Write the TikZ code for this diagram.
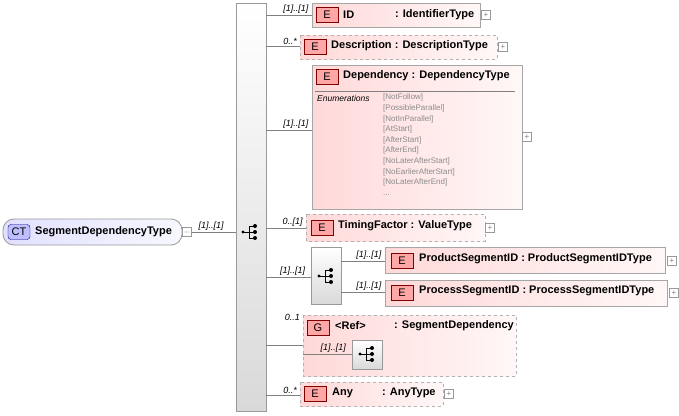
\documentclass[tikz,border=0pt]{standalone}
\usepackage{fontspec}
\setmainfont{Liberation Sans}
\begin{document}
\begin{tikzpicture}[x=1pt,y=-1pt,
  elem/.style={draw=black!35,left color=red!15,right color=red!3,line width=0.8pt},
  opt/.style={elem,dashed,draw=black!30},
  badge/.style={draw=red!50!black,fill=red!35,minimum width=22pt,minimum height=15pt,inner sep=0pt,font=\fontsize{11}{11}\selectfont},
  lbl/.style={font=\bfseries\fontsize{11}{13}\selectfont,anchor=west,inner sep=0pt},
  card/.style={font=\itshape\fontsize{9}{10}\selectfont,anchor=south east,inner sep=1pt},
  conn/.style={draw=black!50,line width=0.7pt},
  plus/.style={draw=black!40,fill=white,minimum size=9pt,inner sep=0pt,font=\fontsize{8}{8}\selectfont,text=black!50},
  seqbox/.style={draw=black!40,top color=white,bottom color=black!15,line width=0.7pt},
  pics/seq/.style={code={
    \fill (-8,0) circle (1.6);
    \draw[line width=1pt] (-8,0) -- (-2,0) (-2,-6) -- (-2,6) (-2,-6) -- (4,-6) (-2,0) -- (4,0) (-2,6) -- (4,6);
    \fill (4,-6) circle (2) (4,0) circle (2) (4,6) circle (2);
  }}]
\useasboundingbox (0,0) rectangle (679,415);
% root
\draw[draw=black!40,left color=blue!12,right color=blue!3,rounded corners=11pt,line width=0.8pt] (3,219) rectangle (182,245);
\node[draw=blue!50!black,fill=blue!25,rounded corners=3pt,minimum width=22pt,minimum height=15pt,inner sep=0pt,font=\fontsize{11}{11}\selectfont] (ctb) at (19,232) {CT};
\node[lbl] (root) at (35,232) {SegmentDependencyType};
\node[plus] (rootp) at (187,232) {$-$};
% main sequence
\node[seqbox,minimum width=30pt,minimum height=408pt,inner sep=0pt,anchor=north west] (seq) at (236,3) {};
\pic at (251,232) {seq};
\draw[conn] (rootp.east) -- (236,232) node[card,pos=0.75] {[1]..[1]};
% ID
\draw[elem] (312,3) rectangle (480,27);
\node[badge] (e1) at (327,15) {E};
\node[lbl] (id) at (343,15) {ID};
\node[lbl] at (395,15) {: IdentifierType};
\node[plus] (p1) at (486,15) {+};
\coordinate (c1) at (312,15);
\draw[conn] (266,15) -- (c1) node[card,pos=0.95] {[1]..[1]};
% Description
\draw[opt] (300,35) rectangle (497,59);
\node[badge] (e2) at (315,47) {E};
\node[lbl] (desc) at (331,46) {Description : DescriptionType};
\node[plus] at (503,47) {+};
\draw[conn] (266,46) -- (300,46) node[card,pos=0.95] {0..*};
% Dependency
\draw[elem] (312,65) rectangle (522,209);
\node[badge] (e3) at (327,77) {E};
\node[lbl] (dep) at (343,76) {Dependency : DependencyType};
\draw[black!50,line width=0.5pt] (315,91) -- (515,91);
\node[font=\itshape\fontsize{8.5}{9}\selectfont,anchor=north west,inner sep=0pt] at (317,95) {Enumerations};
\node[font=\fontsize{8}{10.6}\selectfont,text=black!45,anchor=north west,inner sep=0pt,align=left] at (383,94)
{{[NotFollow]}\\{[PossibleParallel]}\\{[NotInParallel]}\\{[AtStart]}\\{[AfterStart]}\\{[AfterEnd]}\\{[NoLaterAfterStart]}\\{[NoEarlierAfterStart]}\\{[NoLaterAfterEnd]}\\{...}};
\node[plus] at (527,137) {+};
\draw[conn] (266,130) -- (312,130) node[card,pos=0.95] {[1]..[1]};
% TimingFactor
\draw[opt] (306,214) rectangle (485,241);
\node[badge] (e4) at (322,228) {E};
\node[lbl] (tf) at (338,226) {TimingFactor : ValueType};
\node[plus] at (490,228) {+};
\draw[conn] (266,228) -- (306,228) node[card,pos=0.95] {0..[1]};
% inner sequence
\node[seqbox,minimum width=30pt,minimum height=57pt,inner sep=0pt,anchor=north west] (seq2) at (311,247) {};
\pic at (327,276) {seq};
\coordinate (s2w) at (311,277);
\draw[conn] (266,277) -- (s2w) node[card,pos=0.9] {[1]..[1]};
\draw[elem] (385,247) rectangle (665,273);
\node[badge] (e5) at (402,261) {E};
\node[lbl] (ps) at (419,259) {ProductSegmentID : ProductSegmentIDType};
\node[plus] at (672,261) {+};
\draw[conn] (341,261) -- (385,261) node[card,pos=0.95] {[1]..[1]};
\draw[elem] (385,280) rectangle (667,306);
\node[badge] (e6) at (402,293) {E};
\node[lbl] (prs) at (419,291) {ProcessSegmentID : ProcessSegmentIDType};
\node[plus] at (674,293) {+};
\draw[conn] (341,292) -- (385,292) node[card,pos=0.95] {[1]..[1]};
% group
\draw[opt] (303,315) rectangle (516,376);
\node[badge] (g) at (318,328) {G};
\node[lbl] (ref) at (335,326) {<Ref>};
\node[lbl] at (394,326) {: SegmentDependency};
\draw[conn] (266,345) -- (303,345);
\node[card] at (301,322) {0..1};
\node[seqbox,minimum width=30pt,minimum height=29pt,inner sep=0pt,anchor=north west] (seq3) at (352,340) {};
\pic at (368,354) {seq};
\coordinate (s3w) at (352,354);
\draw[conn] (303,354) -- (s3w) node[card,pos=0.9] {[1]..[1]};
% Any
\draw[opt] (300,382) rectangle (443,406);
\node[badge] (e7) at (315,394) {E};
\node[lbl] (any) at (332,393) {Any};
\node[lbl] at (382,393) {: AnyType};
\node[plus] at (449,394) {+};
\draw[conn] (266,395) -- (300,395) node[card,pos=0.95] {0..*};
\end{tikzpicture}
\end{document}
